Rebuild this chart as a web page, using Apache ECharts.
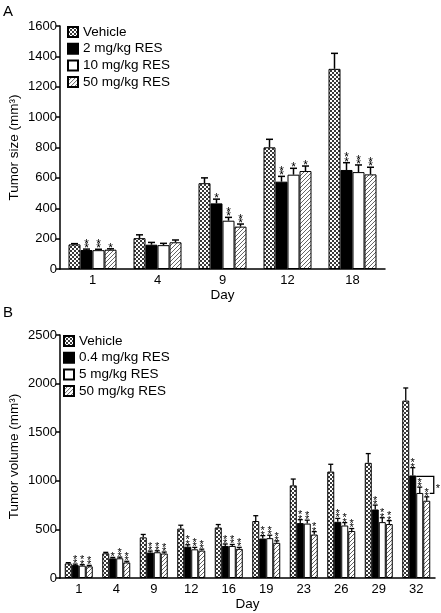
<!DOCTYPE html>
<html><head><meta charset="utf-8">
<script src="https://cdn.jsdelivr.net/npm/echarts/dist/echarts.min.js"></script>
<style>html,body{margin:0;padding:0;background:#fff}#c{width:441px;height:613px}</style>
</head><body><div id="c"></div>
<script>
// ---------- Panel A data ----------
const daysA = ['1', '4', '9', '12', '18'];
const namesA = ['Vehicle', '2 mg/kg RES', '10 mg/kg RES', '50 mg/kg RES'];
const vehicleA = [162, 203, 565, 801, 1318];
const res2A = [125, 160, 432, 575, 652];
const res10A = [124, 157, 318, 621, 638];
const res50A = [127, 176, 279, 645, 623];
const errVehicleA = [5, 22, 35, 53, 102];
const err2A = [6, 15, 28, 35, 48];
const err10A = [6, 12, 22, 42, 47];
const err50A = [6, 15, 17, 33, 47];
const starsVehicleA = ['', '', '', '', ''];
const stars2A = ['**', '', '*', '**', '**'];
const stars10A = ['**', '', '**', '*', '**'];
const stars50A = ['*', '', '**', '*', '**'];
const yMinA = 0, yMaxA = 1600, yStepA = 200;

// ---------- Panel B data ----------
const daysB = ['1', '4', '9', '12', '16', '19', '23', '26', '29', '32'];
const namesB = ['Vehicle', '0.4 mg/kg RES', '5 mg/kg RES', '50 mg/kg RES'];
const vehicleB = [150, 254, 418, 508, 520, 586, 953, 1095, 1185, 1825];
const res04B = [133, 202, 262, 322, 330, 406, 565, 578, 705, 1055];
const res5B = [127, 203, 265, 295, 330, 410, 560, 540, 575, 875];
const res50B = [120, 160, 252, 282, 300, 362, 447, 484, 555, 795];
const errVehicleB = [8, 10, 30, 35, 30, 55, 65, 75, 95, 130];
const err04B = [10, 10, 15, 20, 20, 30, 35, 35, 45, 80];
const err5B = [10, 12, 15, 20, 15, 30, 35, 30, 45, 60];
const err50B = [10, 12, 15, 15, 15, 20, 30, 25, 35, 40];
const starsVehicleB = ['', '', '', '', '', '', '', '', '', ''];
const stars04B = ['**', '*', '**', '**', '**', '**', '**', '**', '**', '**'];
const stars5B = ['**', '**', '**', '**', '**', '**', '**', '**', '**', '**'];
const stars50B = ['**', '**', '**', '**', '**', '**', '**', '**', '**', '**'];
const bracketB = [9, 1045, 870];   // category index, top value, bottom value
const bracketStarB = '*';
const yMinB = 0, yMaxB = 2500, yStepB = 500;

// ---------- patterns ----------
function checker() {
  const c = document.createElement('canvas'); c.width = 4; c.height = 4;
  const g = c.getContext('2d');
  g.fillStyle = '#fff'; g.fillRect(0, 0, 4, 4);
  g.fillStyle = '#3a3a3a'; g.fillRect(0, 0, 2, 2); g.fillRect(2, 2, 2, 2);
  return c;
}
function hatch() {
  const c = document.createElement('canvas'); c.width = 4; c.height = 4;
  const g = c.getContext('2d');
  g.fillStyle = '#fff'; g.fillRect(0, 0, 4, 4);
  g.strokeStyle = '#666'; g.lineWidth = 1;
  g.beginPath();
  g.moveTo(0, 4); g.lineTo(4, 0);
  g.moveTo(-1, 1); g.lineTo(1, -1);
  g.moveTo(3, 5); g.lineTo(5, 3);
  g.stroke();
  return c;
}
const fills = [
  { image: checker(), repeat: 'repeat' },
  '#000',
  '#fff',
  { image: hatch(), repeat: 'repeat' }
];

const FONT = 'Liberation Sans, Arial, sans-serif';

function barSeries(name, data, idx, axis, bw) {
  return {
    type: 'bar', name: name, data: data, xAxisIndex: axis, yAxisIndex: axis,
    barWidth: bw, barGap: '0%', z: 2,
    itemStyle: { color: fills[idx], borderColor: '#000', borderWidth: 1 }
  };
}
function errSeries(vals, errs, stars, idx, axis, bw, cap, lw, starFont, starStep) {
  return {
    type: 'custom', name: 'err' + axis + '_' + idx, xAxisIndex: axis, yAxisIndex: axis, z: 5,
    data: vals.map((v, i) => [i, v, errs[i]]),
    renderItem: function (params, api) {
      const i = api.value(0), v = api.value(1), e = api.value(2);
      const p = api.coord([i, v]);
      const q = api.coord([i, v + e]);
      const x = p[0] - 2 * bw + (idx + 0.5) * bw;
      const children = [
        { type: 'line', shape: { x1: x, y1: p[1], x2: x, y2: q[1] }, style: { stroke: '#000', lineWidth: lw } },
        { type: 'line', shape: { x1: x - cap / 2, y1: q[1], x2: x + cap / 2, y2: q[1] }, style: { stroke: '#000', lineWidth: lw } }
      ];
      const s = stars[i];
      if (s) {
        children.push({
          type: 'text',
          style: {
            text: s.split('').join('\n'), x: x, y: q[1] + 2, align: 'center', verticalAlign: 'bottom',
            font: starFont + 'px ' + FONT, lineHeight: starStep, fill: '#000'
          }
        });
      }
      return { type: 'group', children: children };
    }
  };
}

const axisCommon = {
  axisLine: { lineStyle: { color: '#000', width: 1.5 } },
  axisTick: { length: 4, lineStyle: { color: '#000', width: 1.5 } },
  axisLabel: { color: '#000', fontSize: 13, fontFamily: FONT },
  nameTextStyle: { color: '#000', fontSize: 13.5, fontFamily: FONT },
  splitLine: { show: false }
};

function xAx(idx, data) {
  return Object.assign({}, axisCommon, {
    type: 'category', gridIndex: idx, data: data,
    axisTick: Object.assign({}, axisCommon.axisTick, { alignWithLabel: false }),
    axisLabel: Object.assign({}, axisCommon.axisLabel, { margin: 5 }),
    name: 'Day', nameLocation: 'middle', nameGap: 19, nameMoveOverlap: false
  });
}
function yAx(idx, min, max, step, name) {
  return Object.assign({}, axisCommon, {
    type: 'value', gridIndex: idx, min: min, max: max, interval: step,
    axisLine: Object.assign({}, axisCommon.axisLine, { show: true }),
    axisTick: Object.assign({}, axisCommon.axisTick, { show: true }),
    axisLabel: Object.assign({}, axisCommon.axisLabel, { margin: 3, formatter: v => String(v) }),
    name: name, nameLocation: 'middle', nameGap: 39, nameRotate: 90, nameMoveOverlap: false
  });
}

const valsA = [vehicleA, res2A, res10A, res50A];
const errsA = [errVehicleA, err2A, err10A, err50A];
const starsA = [starsVehicleA, stars2A, stars10A, stars50A];
const valsB = [vehicleB, res04B, res5B, res50B];
const errsB = [errVehicleB, err04B, err5B, err50B];
const starsB = [starsVehicleB, stars04B, stars5B, stars50B];

const series = [];
for (let k = 0; k < 4; k++) series.push(barSeries(namesA[k], valsA[k], k, 0, 12));
for (let k = 0; k < 4; k++) series.push(barSeries(namesB[k], valsB[k], k, 1, 7));
for (let k = 0; k < 4; k++) series.push(errSeries(valsA[k], errsA[k], starsA[k], k, 0, 12, 7, 1.5, 12, 4.5));
for (let k = 0; k < 4; k++) series.push(errSeries(valsB[k], errsB[k], starsB[k], k, 1, 7, 5, 1.3, 11, 4.2));

// bracket on panel B
series.push({
  type: 'custom', name: 'bracket', xAxisIndex: 1, yAxisIndex: 1, z: 6,
  data: [bracketB],
  renderItem: function (params, api) {
    const p1 = api.coord([api.value(0), api.value(1)]);
    const p2 = api.coord([api.value(0), api.value(2)]);
    const cx = p1[0];
    const xr = cx + 17.5;
    return {
      type: 'group', children: [
        { type: 'polyline', shape: { points: [[cx, p1[1]], [xr, p1[1]], [xr, p2[1]], [xr - 4, p2[1]]] },
          style: { stroke: '#000', lineWidth: 1.3, fill: null } },
        { type: 'text', style: { text: bracketStarB, x: xr + 2, y: (p1[1] + p2[1]) / 2 + 4, align: 'left',
          verticalAlign: 'middle', font: '11px ' + FONT, fill: '#000' } }
      ]
    };
  }
});

const legendCommon = {
  orient: 'vertical', icon: 'rect', itemWidth: 10, itemHeight: 10, itemGap: 0.7, padding: 0,
  textStyle: { color: '#000', fontSize: 13.5, fontFamily: FONT, lineHeight: 16 },
  selectedMode: false
};

const chart = echarts.init(document.getElementById('c'), null, { renderer: 'canvas' });
chart.setOption({
  animation: false,
  backgroundColor: '#fff',
  textStyle: { fontFamily: FONT },
  grid: [
    { left: 60, top: 26, width: 325, height: 243, outerBoundsMode: 'none', containLabel: false },
    { left: 60, top: 335, width: 375, height: 243, outerBoundsMode: 'none', containLabel: false }
  ],
  xAxis: [xAx(0, daysA), xAx(1, daysB)],
  yAxis: [
    yAx(0, yMinA, yMaxA, yStepA, 'Tumor size (mm³)'),
    yAx(1, yMinB, yMaxB, yStepB, 'Tumor volume (mm³)')
  ],
  legend: [
    Object.assign({}, legendCommon, { left: 67, top: 24, data: namesA }),
    Object.assign({}, legendCommon, { left: 63, top: 333, data: namesB })
  ],
  graphic: [
    { type: 'text', left: 3, top: 4, style: { text: 'A', font: '15px ' + FONT, fill: '#000' } },
    { type: 'text', left: 3, top: 305, style: { text: 'B', font: '15px ' + FONT, fill: '#000' } }
  ],
  series: series
});
</script>
</body></html>
